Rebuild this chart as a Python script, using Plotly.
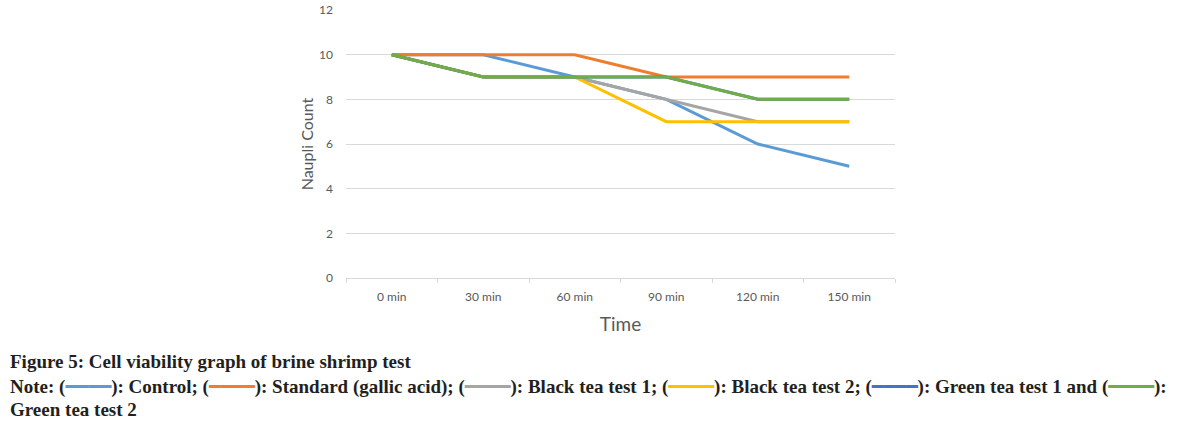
import plotly.graph_objects as go

categories = ["0 min", "30 min", "60 min", "90 min", "120 min", "150 min"]
control = [10, 10, 9, 8, 6, 5]
standard = [10, 10, 10, 9, 9, 9]
black_tea_1 = [10, 9, 9, 8, 7, 7]
black_tea_2 = [10, 9, 9, 7, 7, 7]
green_tea_1 = [10, 9, 9, 9, 8, 8]
green_tea_2 = [10, 9, 9, 9, 8, 8]

series = [
    ("Control", control, "#5B9BD5"),
    ("Standard (gallic acid)", standard, "#ED7D31"),
    ("Black tea test 1", black_tea_1, "#A5A5A5"),
    ("Black tea test 2", black_tea_2, "#FFC000"),
    ("Green tea test 1", green_tea_1, "#4472C4"),
    ("Green tea test 2", green_tea_2, "#70AD47"),
]

fig = go.Figure()
for name, vals, col in series:
    fig.add_trace(go.Scatter(x=categories, y=vals, name=name, mode="lines",
                             line=dict(color=col, width=3)))

W, H = 1201, 437
L, R, T, B = 346, W - 895, 10, H - 278
PW, PH = W - L - R, H - T - B

axis_font = dict(family="Lato, Open Sans, sans-serif", size=12, color="#595959")
fig.update_layout(
    width=W, height=H,
    margin=dict(l=L, r=R, t=T, b=B, autoexpand=False),
    paper_bgcolor="white", plot_bgcolor="white",
    showlegend=False,
    xaxis=dict(type="category", range=[-0.5, 5.5], tickson="boundaries", ticks="outside", ticklen=4,
               tickcolor="#D9D9D9", showline=True, linecolor="#D9D9D9", linewidth=1,
               showgrid=False, tickfont=axis_font, automargin=False, ticklabelstandoff=8,
               title=dict(text="Time", font=dict(family="Lato, Open Sans, sans-serif", size=19, color="#595959"), standoff=14)),
    yaxis=dict(range=[0, 12], dtick=2, showgrid=True, gridcolor="#D9D9D9", gridwidth=1,
               zeroline=False, showline=False, tickfont=axis_font, ticklabelstandoff=12, automargin=False,
               title=dict(text="Naupli Count", font=dict(family="Lato, Open Sans, sans-serif", size=16, color="#595959"), standoff=1)),
)

cap_font = dict(family="Liberation Serif, DejaVu Serif, serif", size=19, color="#231F20")
sw = "━━━━"
def swatch(c):
    return f"(<span style='color:{c}'>{sw}</span>)"

def py(ypx):
    return (H - B - ypx) / PH

xl = -(L - 8) / PW
lines = [
    (361, "<b>Figure 5: Cell viability graph of brine shrimp test</b>"),
    (387, "<b>Note: " + swatch("#5B9BD5") + ": Control; " + swatch("#ED7D31") + ": Standard (gallic acid); "
          + swatch("#A5A5A5") + ": Black tea test 1; " + swatch("#FFC000") + ": Black tea test 2; "
          + swatch("#4472C4") + ": Green tea test 1 and " + swatch("#70AD47") + ":</b>"),
    (410, "<b>Green tea test 2</b>"),
]
for ypx, txt in lines:
    fig.add_annotation(xref="paper", yref="paper", x=xl, y=py(ypx), xanchor="left", yanchor="middle",
                       showarrow=False, align="left", font=cap_font, text=txt)

fig.write_html("out.html", config={"displayModeBar": False},
               post_script="document.body.style.margin='0';document.body.style.overflow='hidden';")
